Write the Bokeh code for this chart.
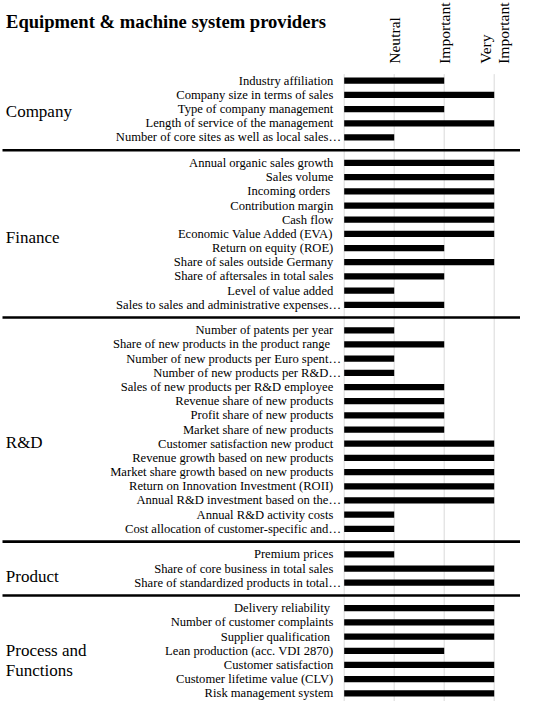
import math
from bokeh.plotting import figure
from bokeh.models import Range1d, ColumnDataSource
from bokeh.core.properties import value
from bokeh.embed import file_html
from bokeh.resources import INLINE

# ---------------- data ----------------
title_text = "Equipment & machine system providers"
tick_values = [1, 2, 3]
tick_labels = ["Neutral", "Important", "Very\nImportant"]

group_names = ["Company", "Finance", "R&D", "Product", "Process and\nFunctions"]

company_labels = [
    "Industry affiliation",
    "Company size in terms of sales",
    "Type of company management",
    "Length of service of the management",
    "Number of core sites as well as local sales\u2026",
]
company_values = [2, 3, 2, 3, 1]

finance_labels = [
    "Annual organic sales growth",
    "Sales volume",
    "Incoming orders\u00a0",
    "Contribution margin",
    "Cash flow",
    "Economic Value Added (EVA)",
    "Return on equity (ROE)",
    "Share of sales outside Germany",
    "Share of aftersales in total sales",
    "Level of value added",
    "Sales to sales and administrative expenses\u2026",
]
finance_values = [3, 3, 3, 3, 3, 3, 2, 3, 2, 1, 2]

rd_labels = [
    "Number of patents per year",
    "Share of new products in the product range\u00a0",
    "Number of new products per Euro spent\u2026",
    "Number of new products per R&D\u2026",
    "Sales of new products per R&D employee",
    "Revenue share of new products",
    "Profit share of new products",
    "Market share of new products",
    "Customer satisfaction new product",
    "Revenue growth based on new products",
    "Market share growth based on new products",
    "Return on Innovation Investment (ROII)",
    "Annual R&D investment based on the\u2026",
    "Annual R&D activity costs",
    "Cost allocation of customer-specific and\u2026",
]
rd_values = [1, 2, 1, 1, 2, 2, 2, 2, 3, 3, 3, 3, 3, 1, 1]

product_labels = [
    "Premium prices",
    "Share of core business in total sales",
    "Share of standardized products in total\u2026",
]
product_values = [1, 3, 3]

process_labels = [
    "Delivery reliability\u00a0",
    "Number of customer complaints",
    "Supplier qualification\u00a0",
    "Lean production (acc. VDI 2870)",
    "Customer satisfaction",
    "Customer lifetime value (CLV)",
    "Risk management system",
]
process_values = [3, 3, 3, 2, 3, 3, 3]

group_labels = [company_labels, finance_labels, rd_labels, product_labels, process_labels]
group_values = [company_values, finance_values, rd_values, product_values, process_values]

# ---------------- layout ----------------
W, H = 520, 701
OFF_X = 8                     # reference px -> figure px (horizontal)
REF_TOP, KY = 5.0, 0.982      # vertical: fig_y = (ref_y - REF_TOP) * KY
X0_PX, UNIT_PX = 351.7, 50.0  # value 0 position / px per value unit (reference px)
Y0_PX, PITCH = 86.7, 14.44    # first row centre / row pitch (reference px)
GAP = 0.8                     # extra slots between groups


def px2x(px):
    return (px - X0_PX) / UNIT_PX


def fy(ry):
    return (ry - REF_TOP) * KY


def px2s(ry):
    return (fy(ry) - fy(Y0_PX)) / (PITCH * KY)


def fig2s(fig_y):
    return (fig_y - fy(Y0_PX)) / (PITCH * KY)


x_start = px2x(OFF_X)
x_end = px2x(OFF_X + W)
s_top = fig2s(0)
s_bot = fig2s(H)

SERIF = "Liberation Serif"
TXT = "#000000"

p = figure(width=W, height=H, output_backend="svg", toolbar_location=None,
           x_range=Range1d(x_start, x_end), y_range=Range1d(s_bot, s_top),
           x_axis_location=None, y_axis_location=None, min_border=0,
           outline_line_color=None, background_fill_color="white",
           border_fill_color="white")
p.xgrid.visible = False
p.ygrid.visible = False

# slots for rows
slots, vals, labs = [], [], []
group_first, group_last = [], []
pos = 0.0
for g, (labels, values) in enumerate(zip(group_labels, group_values)):
    if g > 0:
        pos += GAP
    group_first.append(pos)
    for lab, v in zip(labels, values):
        slots.append(pos)
        vals.append(v)
        labs.append(lab)
        pos += 1
    group_last.append(pos - 1)

# vertical grid lines
grid_x = [0] + tick_values
p.segment(x0=grid_x, x1=grid_x, y0=[px2s(80)] * len(grid_x),
          y1=[group_last[-1] + 0.6] * len(grid_x), line_color="#d9d9d9", line_width=1)

# group separator lines
sep_y = [(group_last[i] + group_first[i + 1]) / 2 for i in range(len(group_names) - 1)]
p.segment(x0=[px2x(10)] * len(sep_y), x1=[x_end] * len(sep_y), y0=sep_y, y1=sep_y,
          line_color="black", line_width=2.6)

# bars
src = ColumnDataSource(dict(y=slots, right=vals, left=[0] * len(vals)))
p.hbar(y="y", left="left", right="right", height=0.44, source=src,
       fill_color="black", line_color=None)

# row labels
lab_x = [px2x(348.5) if l.endswith("\u2026") else px2x(340.8) for l in labs]
p.text(x=lab_x, y=slots, text=labs, text_align="right", text_baseline="middle",
       text_font=value(SERIF), text_font_size="12.6px", text_color=TXT)

# group labels
group_baseline_px = [118.3, 246.7, 455.0, 591.3, 666.5]
gl_text, gl_y = [], []
for name, by in zip(group_names, group_baseline_px):
    for k, line in enumerate(name.split("\n")):
        gl_text.append(line)
        gl_y.append(px2s(by + k * 21.2))
p.text(x=[px2x(13.3)] * len(gl_text), y=gl_y, text=gl_text, text_align="left",
       text_baseline="alphabetic", text_font=value(SERIF), text_font_size="17px",
       text_color=TXT)

# title
p.text(x=[px2x(13.5)], y=[px2s(26.7)], text=[title_text], text_align="left",
       text_baseline="alphabetic", text_font=value(SERIF), text_font_size="18.6px",
       text_font_style="bold", text_color=TXT)

# rotated scale labels
p.text(x=tick_values, y=[px2s(69.5)] * len(tick_values), text=tick_labels,
       angle=math.pi / 2, text_align="left", text_baseline="middle",
       text_font=value(SERIF), text_font_size="15.6px", text_color=TXT,
       text_line_height=1.05)

open("out.html", "w").write(file_html(p, INLINE))
